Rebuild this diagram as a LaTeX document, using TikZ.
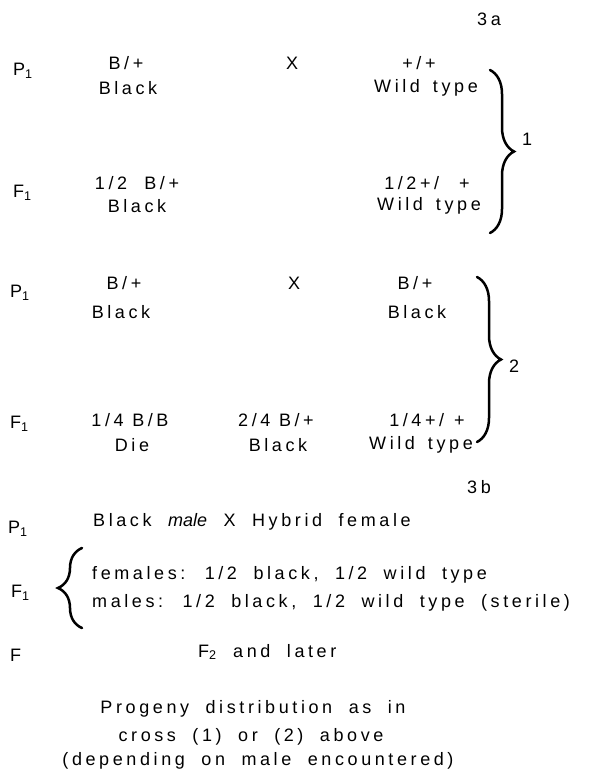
\documentclass[tikz,border=0pt]{standalone}
\usepackage{fontspec}
\setmainfont{Liberation Sans}
\newfontfamily\spaced[LetterSpace=20]{Liberation Sans}
\newcommand\widewordgap{\spaceskip=16.5pt plus 2pt\relax}
\newcommand\midwordgap{\spaceskip=13pt plus 2pt\relax}
\usetikzlibrary{decorations.pathreplacing}
\tikzset{
  gen/.style={font=\fontsize{18}{21}\selectfont, inner sep=0pt, anchor=west},
  txt/.style={font=\spaced\fontsize{18}{21}\selectfont, inner sep=0pt},
  mtxt/.style={txt, execute at begin node=\midwordgap},
  wtxt/.style={txt, execute at begin node=\widewordgap},
  lwtxt/.style={wtxt, anchor=west},
  bigbrace/.style={decorate, decoration={brace, amplitude=24pt}, line width=2.5pt, line cap=round},
}
\begin{document}
\begin{tikzpicture}[x=1pt, y=-1pt]
\useasboundingbox (0,0) rectangle (596,773);

% ---- cross 3a ----
\node[txt] (h3a) at (489,19) {3a};

% cross 1
\node[gen] (p1a) at (13,71) {P\textsubscript{1}};
\node[txt] (g1a) at (126,63) {B/+};
\node[txt] (f1a) at (128,88) {Black};
\node[txt] (x1) at (292,63) {X};
\node[txt] (g1b) at (419,63) {+/+};
\node[mtxt] (f1b) at (426,88) {Wild type};
\node[gen] (f1lab) at (13,193) {F\textsubscript{1}};
\node[txt] (g1c) at (137,183) {1/2\ \ B/+};
\node[txt] (f1c) at (137,206) {Black};
\node[txt] (g1d) at (427,183) {1/2+/\hspace{20pt}+};
\node[mtxt] (f1d) at (429,206) {Wild type};
\coordinate (b1top) at (490,70);
\coordinate (b1bot) at (490,233);
\draw[bigbrace] (b1top) -- (b1bot);
\node[gen] (n1) at (522,139) {1};

% cross 2
\node[gen] (p2a) at (10,293) {P\textsubscript{1}};
\node[txt] (g2a) at (124,283) {B/+};
\node[txt] (f2a) at (121,312) {Black};
\node[txt] (x2) at (294,283) {X};
\node[txt] (g2b) at (415,283) {B/+};
\node[txt] (f2b) at (417,312) {Black};
\node[gen] (f2lab) at (10,424) {F\textsubscript{1}};
\node[txt] (g2c) at (130,420) {1/4 B/B};
\node[txt] (f2c) at (132,445) {Die};
\node[txt] (g2d) at (276,420) {2/4 B/+};
\node[txt] (f2d) at (278,445) {Black};
\node[txt] (g2e) at (427,420) {1/4+/\hspace{10pt}+};
\node[mtxt] (f2e) at (421,445) {Wild type};
\coordinate (b2top) at (477,277);
\coordinate (b2bot) at (477,442);
\draw[bigbrace] (b2top) -- (b2bot);
\node[gen] (n2) at (509,366) {2};

% ---- cross 3b ----
\node[txt] (h3b) at (479,487) {3b};
\node[gen] (p3) at (8,529) {P\textsubscript{1}};
\node[lwtxt] (c3) at (93,522) {Black {\normalfont\itshape male} X Hybrid female};
\node[gen] (f3lab) at (11,593) {F\textsubscript{1}};
\coordinate (b3bot) at (82,628);
\coordinate (b3top) at (82,548);
\draw[bigbrace] (b3bot) -- (b3top);
\node[lwtxt] (fem) at (92,575) {females: 1/2 black, 1/2 wild type};
\node[lwtxt] (mal) at (92,603) {males: 1/2 black, 1/2 wild type (sterile)};
\node[gen] (flab) at (10,655) {F};
\node[lwtxt] (f2) at (198,652) {F\textsubscript{2} and later};
\node[wtxt] (pr1) at (253,709) {Progeny distribution as in};
\node[wtxt] (pr2) at (251,737) {cross (1) or (2) above};
\node[wtxt] (pr3) at (258,761) {(depending on male encountered)};
\end{tikzpicture}
\end{document}
